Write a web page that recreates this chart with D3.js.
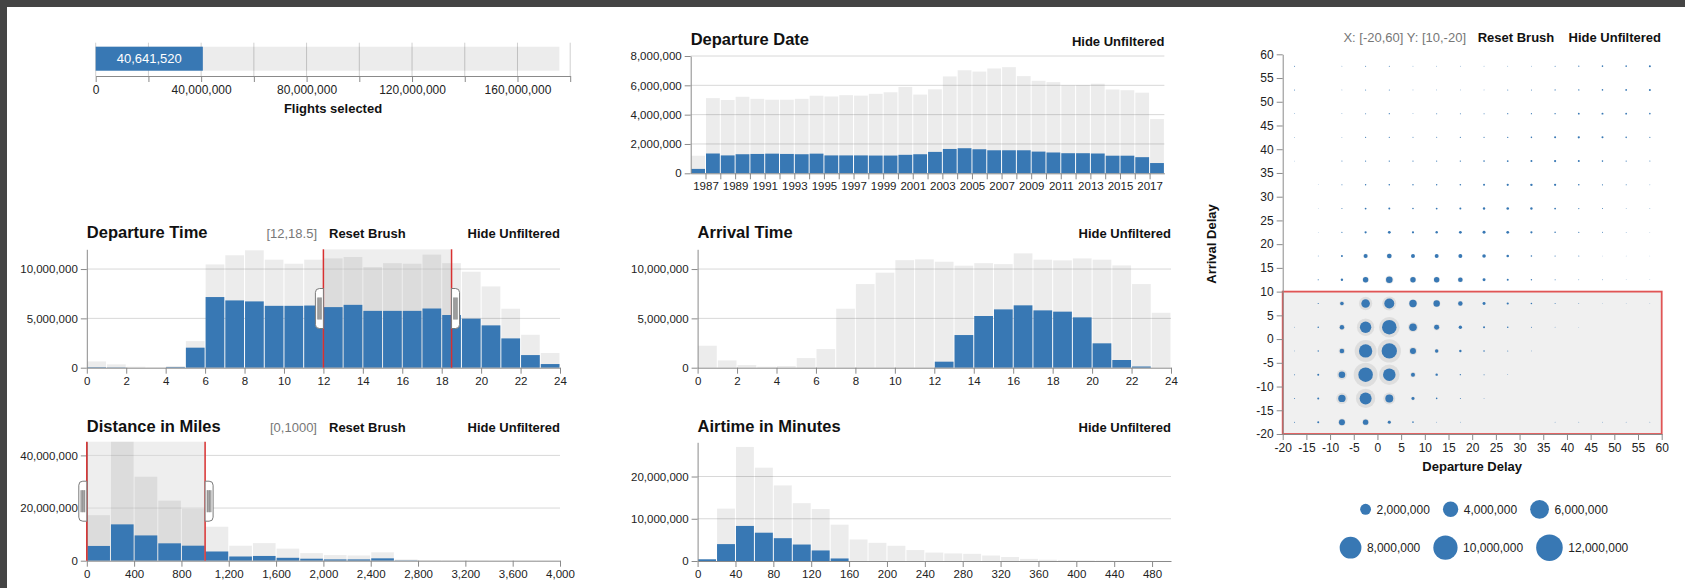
<!DOCTYPE html>
<html><head><meta charset="utf-8">
<script src="https://cdn.jsdelivr.net/npm/d3@7/dist/d3.min.js"></script>
<style>
html,body{margin:0;padding:0;background:#444;overflow:hidden;}
svg{display:block;}
text{font-family:"Liberation Sans",Arial,Helvetica,sans-serif;}
</style></head><body>
<svg id="c" width="1685" height="588"></svg>
<script>
// ---------------- DATA ----------------
const totalFlights = 175900000;
const selectedFlights = 40641520;
const flightTicks = [0,20e6,40e6,60e6,80e6,100e6,120e6,140e6,160e6,180e6];

const years = [1987,1988,1989,1990,1991,1992,1993,1994,1995,1996,1997,1998,1999,2000,2001,2002,2003,2004,2005,2006,2007,2008,2009,2010,2011,2012,2013,2014,2015,2016,2017,2018];
const dateTotal = [1.2,5.13,5.0,5.22,5.08,5.02,5.02,5.08,5.29,5.24,5.33,5.3,5.42,5.53,5.89,5.37,5.73,6.61,7.03,6.94,7.15,7.24,6.63,6.31,6.22,6.0,6.02,6.11,5.72,5.67,5.5,3.7];
const dateSel = [0.3,1.35,1.22,1.3,1.32,1.34,1.32,1.3,1.34,1.22,1.22,1.22,1.21,1.21,1.26,1.3,1.46,1.66,1.71,1.64,1.57,1.57,1.57,1.48,1.42,1.37,1.37,1.35,1.2,1.2,1.1,0.7];
const dateYTicks = [0,2e6,4e6,6e6,8e6];
const dateLabels = ["1987","1989","1991","1993","1995","1997","1999","2001","2003","2005","2007","2009","2011","2013","2015","2017"];

const hourBins = [0,1,2,3,4,5,6,7,8,9,10,11,12,13,14,15,16,17,18,19,20,21,22,23];
const hourTicks = [0,2,4,6,8,10,12,14,16,18,20,22,24];
const depTimeTotal = [0.64,0.34,0.1,0.03,0.17,2.7,10.47,11.4,11.9,10.95,10.54,10.95,11.08,11.22,10.2,10.6,10.54,11.46,10.6,9.73,8.24,5.98,3.34,1.49];
const depTimeSel = [0.05,0.03,0,0,0.06,2.03,7.16,6.82,6.72,6.27,6.27,6.3,6.14,6.37,5.76,5.76,5.76,6.0,5.34,4.97,4.29,2.97,1.28,0.37];
const arrTimeTotal = [2.23,0.74,0.27,0.1,0.17,0.98,1.89,5.98,8.48,9.63,10.9,10.98,10.74,10.34,10.6,10.5,11.59,10.95,10.88,11.08,10.95,10.37,8.48,5.57];
const arrTimeSel = [0,0,0,0,0,0,0,0,0,0,0,0,0.61,3.31,5.24,5.91,6.32,5.81,5.68,5.1,2.47,0.78,0.12,0];
const timeYTicks = [0,5e6,10e6];

const distBins = [0,200,400,600,800,1000,1200,1400,1600,1800,2000,2200,2400,2600,2800,3000,3200,3400,3600,3800];
const distTicks = [0,400,800,1200,1600,2000,2400,2800,3200,3600,4000];
const distTotal = [17.3,45.2,31.9,22.8,19.7,12.9,5.7,6.7,4.6,2.9,2.15,2.0,3.2,0.5,0.25,0.15,0.1,0.05,0.05,0.05];
const distSel = [5.6,13.8,9.6,6.6,5.7,3.5,1.6,1.8,1.1,0.76,0.5,0.5,0.9,0.1,0,0,0,0,0,0];
const distYTicks = [0,20e6,40e6];

const airBins = [0,20,40,60,80,100,120,140,160,180,200,220,240,260,280,300,320,340,360,380,400,420,440,460,480];
const airTicks = [0,40,80,120,160,200,240,280,320,360,400,440,480];
const airTotal = [0.4,12.4,27.0,22.1,17.9,13.7,12.3,8.6,5.1,4.3,3.6,2.6,2.0,1.8,1.7,1.3,0.95,0.5,0.3,0.2,0.15,0.1,0.05,0.05,0.02];
const airSel = [0.4,4.0,8.3,6.7,5.4,3.9,2.5,0.6,0,0,0,0,0,0,0,0,0,0,0,0,0,0,0,0,0];
const airYTicks = [0,10e6,20e6];

// scatter: delay bins (centres), counts in thousands, rows from top (57.5) to bottom (-17.5)
const depDelayCenters = [-17.5,-12.5,-7.5,-2.5,2.5,7.5,12.5,17.5,22.5,27.5,32.5,37.5,42.5,47.5,52.5,57.5];
const arrDelayCenters = [57.5,52.5,47.5,42.5,37.5,32.5,27.5,22.5,17.5,12.5,7.5,2.5,-2.5,-7.5,-12.5,-17.5];
const delayTicks = [-20,-15,-10,-5,0,5,10,15,20,25,30,35,40,45,50,55,60];
const scatterSel = [
 [17,0,11,17,17,11,11,11,11,11,11,17,24,43,43,67],
 [17,0,11,17,17,11,11,11,11,17,17,24,33,43,55,67],
 [11,0,11,17,24,11,17,17,17,24,24,33,55,67,55,43],
 [11,0,11,24,24,17,17,24,24,33,43,67,82,67,43,24],
 [6,0,17,24,33,24,24,33,43,55,67,82,67,43,24,17],
 [0,6,17,33,43,33,33,43,67,82,97,82,43,24,17,11],
 [0,6,17,55,67,43,55,67,97,114,97,55,24,17,11,11],
 [0,6,24,82,132,82,97,132,152,132,82,43,24,17,11,6],
 [0,11,67,270,357,270,270,270,219,114,43,24,17,6,6,3],
 [0,24,97,492,735,492,492,357,152,67,33,17,11,11,6,6],
 [0,24,219,1248,1687,924,691,327,152,82,43,17,11,6,6,6],
 [11,43,327,2192,3596,974,422,195,67,43,17,11,6,0,0,0],
 [11,33,357,3029,4000,607,195,97,43,17,11,0,0,0,0,0],
 [17,67,735,3596,2678,270,97,33,17,11,0,0,0,0,0,0],
 [17,67,924,2429,1080,152,43,17,11,0,0,0,0,0,0,0],
 [17,67,607,492,152,43,11,11,0,0,0,11,11,11,11,11]
];
const scatterTotal = [
 [0,0,0,0,0,0,0,0,0,0,0,0,0,0,0,0],
 [0,0,0,0,0,0,0,0,0,0,0,0,0,0,0,0],
 [0,0,0,0,0,0,0,0,0,0,0,0,0,0,0,0],
 [0,0,0,0,0,0,0,0,0,0,0,0,0,0,0,0],
 [0,0,0,0,0,0,0,0,0,0,0,0,0,0,0,0],
 [0,0,0,0,0,0,0,0,0,0,0,0,0,0,0,0],
 [0,0,0,0,0,0,0,0,0,0,0,0,0,0,0,0],
 [0,0,0,0,0,0,0,0,0,0,0,0,0,0,0,0],
 [0,0,0,422,529,0,0,0,0,0,0,0,0,0,0,0],
 [0,0,0,735,1248,735,735,529,0,0,0,0,0,0,0,0],
 [0,0,422,3029,3306,1248,924,492,0,0,0,0,0,0,0,0],
 [0,0,607,5107,7159,1687,691,0,0,0,0,0,0,0,0,0],
 [0,0,735,8165,9237,1080,357,0,0,0,0,0,0,0,0,0],
 [0,0,1687,9717,7159,492,0,0,0,0,0,0,0,0,0,0],
 [0,0,2192,6349,2429,270,0,0,0,0,0,0,0,0,0,0],
 [0,0,924,735,270,0,0,0,0,0,0,0,0,0,0,0]
];
const legendValues = [[2e6,4e6,6e6],[8e6,10e6,12e6]];

// ---------------- STYLE ----------------
const BLUE = "#3878b4";
const FONT = '"Liberation Sans",Arial,Helvetica,sans-serif';
const fmt = d3.format(",");
const svg = d3.select("#c");
svg.append("rect").attr("width",1685).attr("height",588).attr("fill","#444");
svg.append("rect").attr("x",7).attr("y",7).attr("width",1678).attr("height",581).attr("fill","#fff");

function styleAxis(g, fs){
  g.attr("font-family",FONT).attr("font-size",fs);
  g.selectAll("path.domain").attr("stroke","#8a8a8a");
  g.selectAll(".tick line").attr("stroke","#8a8a8a");
  g.selectAll(".tick text").attr("fill","#222");
}
function txt(x,y,s,o){
  const t = svg.append("text").attr("x",x).attr("y",y).text(s)
    .attr("font-size",o.size||13).attr("font-weight",o.bold?"bold":"normal")
    .attr("fill",o.color||"#111").attr("text-anchor",o.anchor||"start");
  return t;
}
function handle(g, x, cy, dir){
  const w=8,h=40,r=4;
  const x2 = x + dir*w;
  const p = `M${x},${cy-h/2} L${x2-dir*r},${cy-h/2} Q${x2},${cy-h/2} ${x2},${cy-h/2+r} L${x2},${cy+h/2-r} Q${x2},${cy+h/2} ${x2-dir*r},${cy+h/2} L${x},${cy+h/2} Z`;
  g.append("path").attr("d",p).attr("fill","#fff").attr("stroke","#7a7a7a").attr("stroke-width",1);
  g.append("rect").attr("x",Math.min(x+dir*1.5,x+dir*6.5)).attr("y",cy-11).attr("width",5).attr("height",22).attr("fill","#aaa");
  [2.5,4.5].forEach(o=>g.append("line").attr("x1",x+dir*o).attr("x2",x+dir*o).attr("y1",cy-11).attr("y2",cy+11).attr("stroke","#888").attr("stroke-width",0.7));
}

// ---------------- TOP: flights selected ----------------
(function(){
  const x = d3.scaleLinear().domain([0,180e6]).range([95.7,570.2]);
  const g = svg.append("g");
  g.selectAll("line.grid").data(flightTicks).join("line").attr("class","grid")
    .attr("x1",d=>x(d)).attr("x2",d=>x(d)).attr("y1",42.7).attr("y2",76).attr("stroke","#d0d0d0");
  g.append("rect").attr("x",x(0)).attr("y",46.7).attr("width",x(totalFlights)-x(0)).attr("height",24)
    .attr("fill","#000").attr("fill-opacity",0.075);
  g.append("rect").attr("x",x(0)).attr("y",46.7).attr("width",x(selectedFlights)-x(0)).attr("height",24)
    .attr("fill",BLUE);
  const ax = g.append("g").attr("transform","translate(0,76)")
    .call(d3.axisBottom(x).tickValues(flightTicks).tickSizeOuter(0).tickFormat((d,i)=> i%2 ? "" : fmt(d)));
  styleAxis(ax,12);
  txt((x(0)+x(selectedFlights))/2, 63.3, fmt(selectedFlights), {size:13,color:"#fff",anchor:"middle"});
  txt(333, 113, "Flights selected", {size:13,bold:true,anchor:"middle"});
})();

// ---------------- Histograms ----------------
function histogram(o){
  const x = d3.scaleLinear().domain(o.xDomain).range([o.x0,o.x1]);
  const y = d3.scaleLinear().domain([0,o.yMax]).range([o.yBot,o.yTop]);
  const g = svg.append("g");
  if(o.brush){
    g.append("rect").attr("x",x(o.brush[0])).attr("y",o.yTop).attr("width",x(o.brush[1])-x(o.brush[0]))
      .attr("height",o.yBot-o.yTop).attr("fill","#000").attr("fill-opacity",0.065);
  }
  g.selectAll("line.grid").data(o.yTicks.filter(v=>v>0)).join("line").attr("class","grid")
    .attr("x1",o.x0).attr("x2",o.x1).attr("y1",d=>y(d)).attr("y2",d=>y(d)).attr("stroke","#d8d8d8");
  g.append("g").selectAll("rect").data(o.bins).join("rect")
    .attr("x",d=>x(d)+0.5).attr("width",d=>Math.max(0,x(d+o.step)-x(d)-1))
    .attr("y",(d,i)=>y(o.total[i]*1e6)).attr("height",(d,i)=>o.yBot-y(o.total[i]*1e6))
    .attr("fill","#000").attr("fill-opacity",0.075);
  g.append("g").selectAll("rect").data(o.bins).join("rect")
    .attr("x",d=>x(d)+0.5).attr("width",d=>Math.max(0,x(d+o.step)-x(d)-1))
    .attr("y",(d,i)=>y(o.sel[i]*1e6)).attr("height",(d,i)=>o.yBot-y(o.sel[i]*1e6))
    .attr("fill",BLUE);
  const ay = g.append("g").attr("transform",`translate(${o.x0},0)`)
    .call(d3.axisLeft(y).tickValues(o.yTicks).tickSizeOuter(0).tickFormat(fmt));
  styleAxis(ay,11.5);
  const axx = g.append("g").attr("transform",`translate(0,${o.yBot})`)
    .call(d3.axisBottom(x).tickValues(o.xTicks).tickSizeOuter(0).tickFormat(o.xFormat));
  styleAxis(axx,11.5);
  if(o.brush){
    const cy = (o.yTop+o.yBot)/2;
    [0,1].forEach(k=>{
      const bx = x(o.brush[k]);
      g.append("line").attr("x1",bx).attr("x2",bx).attr("y1",o.yTop).attr("y2",o.yBot)
        .attr("stroke","#d83030").attr("stroke-width",1.5);
      handle(g,bx,cy,k===0?-1:1);
    });
    txt(o.x1-243, o.titleY, o.rangeText, {size:13,color:"#777",anchor:"end"});
    txt(o.x1-231, o.titleY, "Reset Brush", {size:13,bold:true});
  }
  txt(o.x0, o.titleY, o.title, {size:16.5,bold:true});
  txt(o.x1, o.titleY, "Hide Unfiltered", {size:13,bold:true,anchor:"end"});
}

histogram({title:"Departure Time",x0:86.8,x1:560,yTop:249.3,yBot:367.7,titleY:238,
  xDomain:[0,24],yMax:12e6,bins:hourBins,step:1,total:depTimeTotal,sel:depTimeSel,
  yTicks:timeYTicks,xTicks:hourTicks,xFormat:d=>String(d),brush:[12,18.5],rangeText:"[12,18.5]"});
histogram({title:"Arrival Time",x0:697.6,x1:1171,yTop:249.3,yBot:367.7,titleY:238,
  xDomain:[0,24],yMax:12e6,bins:hourBins,step:1,total:arrTimeTotal,sel:arrTimeSel,
  yTicks:timeYTicks,xTicks:hourTicks,xFormat:d=>String(d)});
histogram({title:"Distance in Miles",x0:86.8,x1:560,yTop:441.7,yBot:560.7,titleY:432,
  xDomain:[0,4000],yMax:45.2e6,bins:distBins,step:200,total:distTotal,sel:distSel,
  yTicks:distYTicks,xTicks:distTicks,xFormat:fmt,brush:[0,1000],rangeText:"[0,1000]"});
histogram({title:"Airtime in Minutes",x0:697.6,x1:1171,yTop:442.3,yBot:561,titleY:432,
  xDomain:[0,500],yMax:28.1e6,bins:airBins,step:20,total:airTotal,sel:airSel,
  yTicks:airYTicks,xTicks:airTicks,xFormat:d=>String(d)});

// ---------------- Departure Date ----------------
(function(){
  const x0=690.7,x1=1164.4,yTop=56,yBot=173.3;
  // continuous year scale: bar for year Y spans [Y, Y+1]; year label sits at the bin's closing edge
  const x = d3.scaleLinear().domain([years[0], years[years.length-1]+1]).range([x0,x1]);
  const y = d3.scaleLinear().domain([0,8e6]).range([yBot,yTop]);
  const g = svg.append("g");
  g.selectAll("line.grid").data(dateYTicks.filter(v=>v>0)).join("line").attr("class","grid")
    .attr("x1",x0).attr("x2",x1).attr("y1",d=>y(d)).attr("y2",d=>y(d)).attr("stroke","#d8d8d8");
  g.append("g").selectAll("rect").data(years).join("rect")
    .attr("x",d=>x(d)+0.5).attr("width",d=>x(d+1)-x(d)-1)
    .attr("y",(d,i)=>y(dateTotal[i]*1e6)).attr("height",(d,i)=>yBot-y(dateTotal[i]*1e6))
    .attr("fill","#000").attr("fill-opacity",0.075);
  g.append("g").selectAll("rect").data(years).join("rect")
    .attr("x",d=>x(d)+0.5).attr("width",d=>x(d+1)-x(d)-1)
    .attr("y",(d,i)=>y(dateSel[i]*1e6)).attr("height",(d,i)=>yBot-y(dateSel[i]*1e6))
    .attr("fill",BLUE);
  const ay = g.append("g").attr("transform",`translate(${x0},0)`)
    .call(d3.axisLeft(y).tickValues(dateYTicks).tickSizeOuter(0).tickFormat(fmt));
  styleAxis(ay,11.5);
  const tickYears = years.slice(0, years.length-1);
  const ax = g.append("g").attr("transform",`translate(0,${yBot})`)
    .call(d3.axisBottom(x).tickValues(tickYears.map(v=>v+1)).tickSizeOuter(0)
      .tickFormat(d=>{ const lab = String(d-1); return dateLabels.includes(lab) ? lab : ""; }));
  styleAxis(ax,11.5);
  txt(x0, 44.5, "Departure Date", {size:16.5,bold:true});
  txt(x1, 45.5, "Hide Unfiltered", {size:13,bold:true,anchor:"end"});
})();

// ---------------- Scatter ----------------
(function(){
  const sx = d3.scaleLinear().domain([-20,60]).range([1282.7,1661.7]);
  const sy = d3.scaleLinear().domain([-20,60]).range([434,54.3]);
  const size = d3.scaleSqrt().domain([0,12e6]).range([0,13.3]);
  const g = svg.append("g");
  g.append("rect").attr("x",sx(-20)).attr("y",sy(10)).attr("width",sx(60)-sx(-20)).attr("height",sy(-20)-sy(10))
    .attr("fill","#000").attr("fill-opacity",0.06).attr("stroke","#e05555").attr("stroke-width",1.8);
  const cells = [];
  arrDelayCenters.forEach((yv,ri)=>depDelayCenters.forEach((xv,ci)=>{
    cells.push({x:xv,y:yv,sel:scatterSel[ri][ci]*1000,tot:scatterTotal[ri][ci]*1000});
  }));
  g.append("g").selectAll("circle").data(cells.filter(c=>c.tot>c.sel)).join("circle")
    .attr("cx",d=>sx(d.x)).attr("cy",d=>sy(d.y)).attr("r",d=>size(d.tot))
    .attr("fill","#000").attr("fill-opacity",0.075);
  g.append("g").selectAll("circle").data(cells.filter(c=>c.sel>0)).join("circle")
    .attr("cx",d=>sx(d.x)).attr("cy",d=>sy(d.y)).attr("r",d=>size(d.sel))
    .attr("fill",BLUE);
  const ay = g.append("g").attr("transform",`translate(${sx(-20)},0)`)
    .call(d3.axisLeft(sy).tickValues(delayTicks).tickSizeOuter(0).tickFormat(d=>String(d)));
  styleAxis(ay,12);
  const ax = g.append("g").attr("transform",`translate(0,${sy(-20)})`)
    .call(d3.axisBottom(sx).tickValues(delayTicks).tickSizeOuter(0).tickFormat(d=>String(d)));
  styleAxis(ax,12);
  txt(1472.2, 471, "Departure Delay", {size:13,bold:true,anchor:"middle"});
  svg.append("text").attr("transform","translate(1215.5,244) rotate(-90)").attr("text-anchor","middle")
    .attr("font-size",13).attr("font-weight","bold").attr("fill","#111").text("Arrival Delay");
  txt(1466, 42.3, "X: [-20,60] Y: [10,-20]", {size:13,color:"#777",anchor:"end"});
  txt(1477.7, 42.3, "Reset Brush", {size:13,bold:true});
  txt(1661, 42.3, "Hide Unfiltered", {size:13,bold:true,anchor:"end"});

  // legend
  const rowsY = [509.3, 547.7];
  legendValues.forEach((row,ri)=>{
    const lg = svg.append("g");
    let cur = 0;
    row.forEach(v=>{
      const r = size(v);
      lg.append("circle").attr("cx",cur+r).attr("cy",0).attr("r",r).attr("fill",BLUE);
      const t = lg.append("text").attr("x",cur+2*r+5.5).attr("y",4.2).attr("font-size",12).attr("fill","#222").text(fmt(v));
      cur += 2*r + 5.5 + t.node().getComputedTextLength() + 13;
    });
    cur -= 13;
    lg.attr("transform",`translate(${1484 - cur/2},${rowsY[ri]})`);
  });
})();
</script>
</body></html>
